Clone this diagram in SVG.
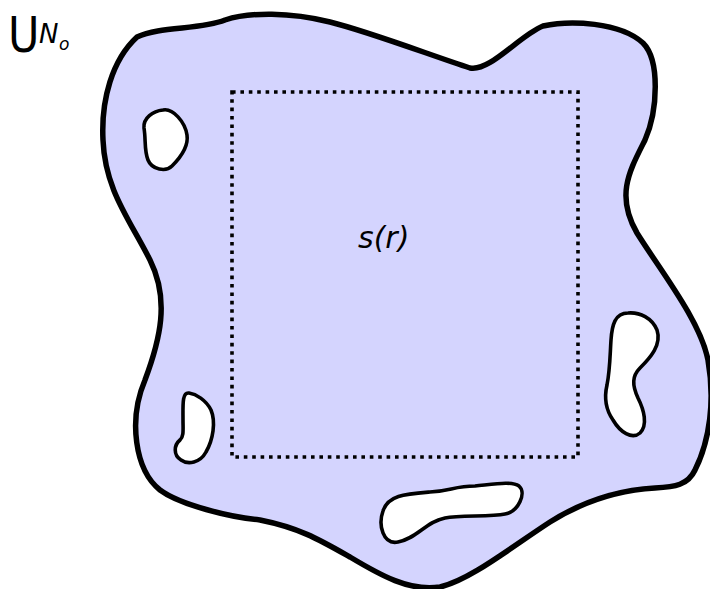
<svg xmlns="http://www.w3.org/2000/svg" width="710" height="589" viewBox="0 0 710 589">
<style>
.region{fill:#d4d4fe;stroke:#000;stroke-width:5.5;stroke-linejoin:round}
.hole{fill:#fff;stroke:#000;stroke-width:3.6;stroke-linejoin:round}
.box{fill:none;stroke:#000;stroke-width:3.6;stroke-dasharray:3.6,4.8}
.lbl{font-family:"DejaVu Sans","Liberation Sans",sans-serif;fill:#000}
.it{font-style:italic}
</style>
<g id="region">
<path class="region" d="M137,37 C160,26 200,30 225,20 C250,12 290,12 330,22 C370,32 430,55 470,68 C490,72 520,35 543,26 C570,20 620,22 643,43 C660,60 658,110 645,140 C630,170 615,195 637,233 C660,270 700,320 708,360 C715,400 710,440 695,470 C688,485 675,487 655,488 C620,490 585,500 550,522 C510,548 470,580 440,587 C410,592 380,575 350,557 C320,540 300,528 260,520 C230,517 180,505 160,490 C135,470 128,420 145,380 C160,340 170,300 150,260 C130,220 105,190 103,140 C101,100 112,60 137,37 Z"/>
</g>
<g id="holes">
<path class="hole" d="M163,110 C173,108 185,122 187,135 C189,148 178,160 172,166 C166,172 152,170 148,160 C144,150 146,140 144,128 C143,118 153,111 163,110 Z"/>
<path class="hole" d="M189,393 C196,394 206,400 211,410 C216,422 213,440 206,452 C200,463 188,465 181,460 C173,455 174,445 180,440 C184,436 183,430 183,420 C183,405 182,392 189,393 Z"/>
<path class="hole" d="M383,511 C388,495 405,494 430,492 C450,491 455,486 475,486 C495,484 512,481 519,486 C527,493 518,512 505,514 C490,517 460,515 445,518 C425,522 418,538 398,542 C383,545 378,525 383,511 Z"/>
<path class="hole" d="M628,313 C640,312 652,318 657,330 C662,345 650,358 640,368 C632,376 632,385 638,398 C644,410 648,425 640,433 C632,440 620,432 613,420 C606,410 604,398 607,385 C610,370 610,355 611,340 C612,325 615,313 628,313 Z"/>
</g>
<g id="s_r">
<rect class="box" x="232" y="92" width="346" height="365"/>
<text class="lbl it" x="358" y="248" font-size="30">s(r)</text>
</g>
<g id="label">
<text class="lbl" x="0" y="52" font-size="50" transform="translate(8,0) scale(0.86,1)">U</text>
<text class="lbl it" x="39" y="43" font-size="26">N</text>
<text class="lbl it" x="59" y="50" font-size="17">o</text>
</g>
</svg>
